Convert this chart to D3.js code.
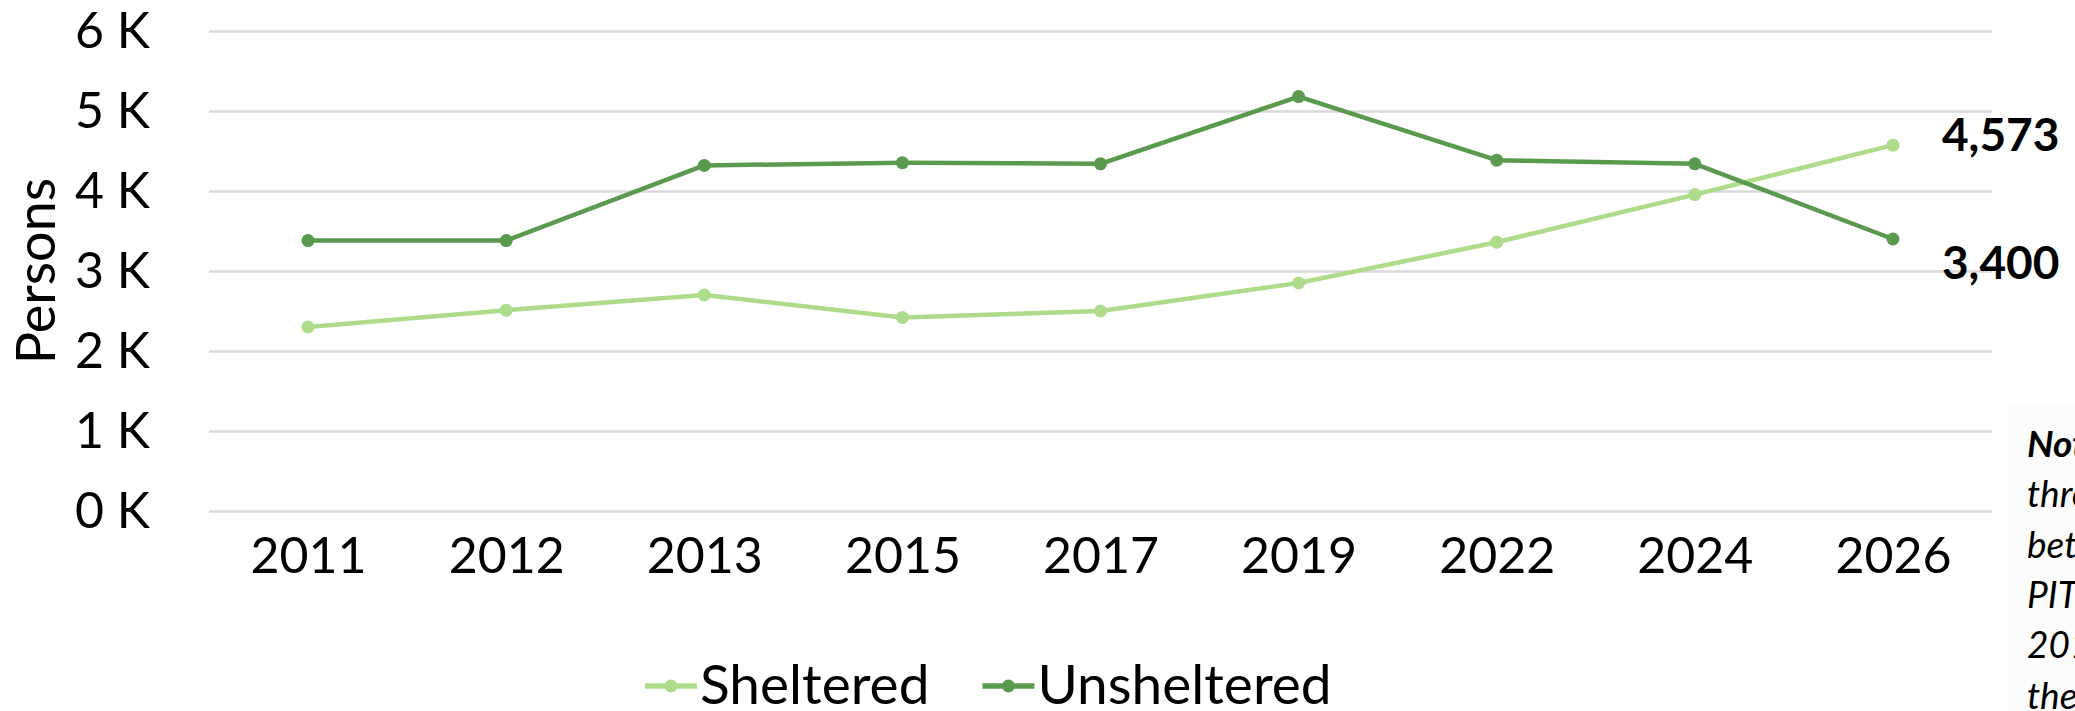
<!DOCTYPE html>
<html>
<head>
<meta charset="utf-8">
<script src="https://cdn.jsdelivr.net/npm/d3@7"></script>
<style>
  body { margin: 0; background: #fff; overflow: hidden; }
  text { font-family: Lato, "Open Sans", sans-serif; fill: #000; }
</style>
</head>
<body>
<svg width="2075" height="711"></svg>
<script>
// chart data
var years = ["2011", "2012", "2013", "2015", "2017", "2019", "2022", "2024", "2026"];
var sheltered = [2300, 2510, 2700, 2420, 2500, 2850, 3360, 3955, 4573];
var unsheltered = [3380, 3380, 4320, 4353, 4340, 5180, 4385, 4340, 3400];
var yTicks = [0, 1000, 2000, 3000, 4000, 5000, 6000];
var seriesNames = ["Sheltered", "Unsheltered"];
var noteLines = ["Note:", "through", "between", "PIT", "2019", "the"];

var svg = d3.select("svg"),
    margin = {top: 31, right: 83, bottom: 200, left: 209},
    width = +svg.attr("width") - margin.left - margin.right,
    height = +svg.attr("height") - margin.top - margin.bottom,
    g = svg.append("g").attr("transform", "translate(" + margin.left + "," + margin.top + ")");

var colors = {Sheltered: "#addc8b", Unsheltered: "#5a9a4f"};

var x = d3.scalePoint()
    .domain(years)
    .range([0, width])
    .padding(0.5);

var y = d3.scaleLinear()
    .domain([0, 6000])
    .range([height, 0]);

// faint box behind the side note
svg.append("rect")
    .attr("x", 2007).attr("y", 405).attr("width", 80).attr("height", 320)
    .attr("fill", "#fcfcfc");

// gridlines
g.append("g")
    .attr("class", "grid")
    .call(d3.axisLeft(y).tickValues(yTicks).tickSize(-width).tickFormat(""))
    .call(function(s) {
      s.select(".domain").remove();
      s.selectAll("line").attr("stroke", "#d9d9d9").attr("stroke-width", 2.5);
    });

// y axis labels
g.append("g")
    .call(d3.axisLeft(y).tickValues(yTicks).tickSize(0).tickPadding(59)
      .tickFormat(function(d) { return (d / 1000) + " K"; }))
    .call(function(s) {
      s.select(".domain").remove();
      s.selectAll("text").attr("font-size", 50).attr("font-family", "Lato").attr("fill", "#000");
    });

// x axis labels
g.append("g")
    .attr("transform", "translate(0," + height + ")")
    .call(d3.axisBottom(x).tickSize(0).tickPadding(26))
    .call(function(s) {
      s.select(".domain").remove();
      s.selectAll("text").attr("font-size", 50).attr("font-family", "Lato").attr("fill", "#000");
    });

// y title
svg.append("text")
    .attr("transform", "translate(55," + (margin.top + y(3000)) + ") rotate(-90)")
    .attr("text-anchor", "middle")
    .attr("font-size", 54)
    .text("Persons");

var line = d3.line()
    .x(function(d, i) { return x(years[i]); })
    .y(function(d) { return y(d); });

var series = [
  {name: "Sheltered", values: sheltered, dy: -11},
  {name: "Unsheltered", values: unsheltered, dy: 23}
];

series.forEach(function(s) {
  g.append("path")
      .datum(s.values)
      .attr("fill", "none")
      .attr("stroke", colors[s.name])
      .attr("stroke-width", 4.5)
      .attr("stroke-linejoin", "round")
      .attr("d", line);

  g.selectAll(null)
    .data(s.values)
    .enter().append("circle")
      .attr("cx", function(d, i) { return x(years[i]); })
      .attr("cy", function(d) { return y(d); })
      .attr("r", 6.5)
      .attr("fill", colors[s.name]);

  var last = s.values[s.values.length - 1];
  g.append("text")
      .attr("x", x(years[years.length - 1]) + 49)
      .attr("y", y(last) + s.dy)
      .attr("dy", "0.36em")
      .attr("font-size", 46)
      .attr("font-weight", "bold")
      .text(d3.format(",")(last));
});

// legend
var legend = svg.append("g").attr("transform", "translate(645,686)");
var lx = 0;
seriesNames.forEach(function(name, i) {
  var item = legend.append("g").attr("transform", "translate(" + lx + ",0)");
  item.append("line")
      .attr("x1", 0).attr("x2", 52)
      .attr("stroke", colors[name]).attr("stroke-width", 5.5);
  item.append("circle")
      .attr("cx", 26).attr("r", 6.5).attr("fill", colors[name]);
  var t = item.append("text")
      .attr("x", 55)
      .attr("y", 18)
      .attr("font-size", 55)
      .text(name);
  lx += 55 + t.node().getComputedTextLength() + 53;
});

// side note (runs off the page edge, as in the source)
var note = svg.append("g").attr("transform", "translate(2027,457)");
note.selectAll("text")
  .data(noteLines)
  .enter().append("text")
    .attr("y", function(d, i) { return i * 50.3; })
    .attr("font-size", 37)
    .attr("font-style", "italic")
    .attr("font-weight", function(d, i) { return i === 0 ? "bold" : "normal"; })
    .text(function(d) { return d; });
</script>
</body>
</html>
